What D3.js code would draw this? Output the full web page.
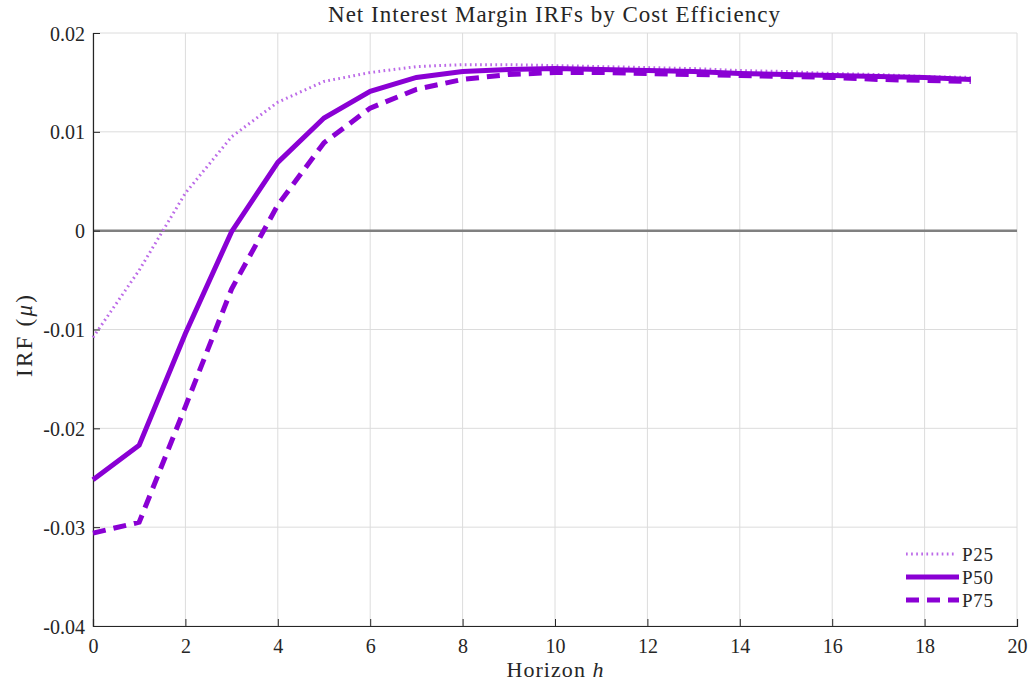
<!DOCTYPE html>
<html>
<head>
<meta charset="utf-8">
<script src="https://cdn.jsdelivr.net/npm/d3@7"></script>
<style>
  body { margin: 0; background: #fff; }
  svg text { font-family: "Liberation Serif", "Times New Roman", serif; }
</style>
</head>
<body>
<svg id="chart" width="1030" height="686"></svg>
<script>
const horizon = d3.range(0, 20);
const p25 = [-0.0108, -0.0040, 0.0038, 0.0095, 0.0130, 0.0151, 0.0160, 0.0166, 0.0168, 0.0168,
             0.0167, 0.0166, 0.0165, 0.0164, 0.0162, 0.0161, 0.0159, 0.0158, 0.0156, 0.0155];
const p50 = [-0.0252, -0.0217, -0.0104, -0.0001, 0.0069, 0.0114, 0.0141, 0.0155, 0.0161, 0.0163,
             0.0164, 0.0163, 0.0162, 0.0161, 0.0159, 0.0158, 0.0157, 0.0156, 0.0155, 0.0153];
const p75 = [-0.0306, -0.0295, -0.0178, -0.0059, 0.0026, 0.0089, 0.0124, 0.0143, 0.0153, 0.0158,
             0.0160, 0.0160, 0.0159, 0.0158, 0.0157, 0.0156, 0.0155, 0.0153, 0.0152, 0.0151];
const xTicks = [0, 2, 4, 6, 8, 10, 12, 14, 16, 18, 20];
const yTicks = [-0.04, -0.03, -0.02, -0.01, 0, 0.01, 0.02];
const yTickLabels = ["-0.04", "-0.03", "-0.02", "-0.01", "0", "0.01", "0.02"];

const series = [
  {name: "P25", values: p25, color: "#bc6ae8", width: 3, dash: "1.7,3.4"},
  {name: "P50", values: p50, color: "#8a00d4", width: 5, dash: null},
  {name: "P75", values: p75, color: "#8a00d4", width: 5, dash: "13,8"}
];

const svg = d3.select("#chart");
const margin = {left: 93, right: 13, top: 33, bottom: 60};
const W = 1030, H = 686;

const x = d3.scaleLinear().domain([0, 20]).range([margin.left, W - margin.right]);
const y = d3.scaleLinear().domain([-0.04, 0.02]).range([H - margin.bottom, margin.top]);

// grid
const grid = svg.append("g");
grid.selectAll("line.gx").data(xTicks).enter().append("line")
  .attr("x1", d => x(d)).attr("x2", d => x(d))
  .attr("y1", y(-0.04)).attr("y2", y(0.02))
  .attr("stroke", "#dcdcdc").attr("stroke-width", 1);
grid.selectAll("line.gy").data(yTicks).enter().append("line")
  .attr("x1", x(0)).attr("x2", x(20))
  .attr("y1", d => y(d)).attr("y2", d => y(d))
  .attr("stroke", "#dcdcdc").attr("stroke-width", 1);

// zero line
svg.append("line")
  .attr("x1", x(0)).attr("x2", x(20))
  .attr("y1", y(0)).attr("y2", y(0))
  .attr("stroke", "#808080").attr("stroke-width", 2.5);

// axes, ticks point inward
const xAxis = svg.append("g")
  .attr("transform", `translate(0,${y(-0.04)})`)
  .call(d3.axisBottom(x).tickValues(xTicks).tickSize(-7).tickPadding(13).tickFormat(d3.format("d")));
const yAxis = svg.append("g")
  .attr("transform", `translate(${x(0)},0)`)
  .call(d3.axisLeft(y).tickValues(yTicks).tickSize(-7).tickPadding(8)
    .tickFormat((d, i) => yTickLabels[i]));
[xAxis, yAxis].forEach(a => {
  a.attr("font-family", null);
  a.select(".domain").attr("stroke", "#262626").attr("stroke-width", 1.2);
  a.selectAll(".tick line").attr("stroke", "#262626");
  a.selectAll("text").attr("font-size", 20).attr("fill", "#262626");
});
yAxis.selectAll("text").attr("dy", "0.35em");

// lines
const line = d3.line().x((d, i) => x(horizon[i])).y(d => y(d));
series.forEach(s => {
  svg.append("path")
    .datum(s.values)
    .attr("fill", "none")
    .attr("stroke", s.color)
    .attr("stroke-width", s.width)
    .attr("stroke-dasharray", s.dash)
    .attr("d", line);
});

// title and labels
svg.append("text").attr("x", 554).attr("y", 22)
  .attr("text-anchor", "middle").attr("font-size", 23).attr("fill", "#262626")
  .attr("textLength", 452).attr("lengthAdjust", "spacing")
  .text("Net Interest Margin IRFs by Cost Efficiency");

const xl = svg.append("text").attr("x", 555).attr("y", 677)
  .attr("text-anchor", "middle").attr("font-size", 22).attr("fill", "#262626")
  .attr("textLength", 97).attr("lengthAdjust", "spacing");
xl.append("tspan").text("Horizon ");
xl.append("tspan").attr("font-style", "italic").text("h");

const yl = svg.append("text")
  .attr("transform", "translate(32,336) rotate(-90)")
  .attr("text-anchor", "middle").attr("font-size", 23).attr("fill", "#262626")
  .attr("textLength", 82).attr("lengthAdjust", "spacing");
yl.append("tspan").text("IRF (");
yl.append("tspan").attr("font-style", "italic").text("μ");
yl.append("tspan").text(")");

// legend
const legend = svg.append("g").attr("transform", "translate(906,554)");
series.forEach((s, i) => {
  const g = legend.append("g").attr("transform", `translate(0,${i * 23})`);
  g.append("line").attr("x1", 0).attr("x2", i === 0 ? 50 : 53).attr("y1", 0).attr("y2", 0)
    .attr("stroke", s.color).attr("stroke-width", s.width)
    .attr("stroke-dasharray", s.dash);
  g.append("text").attr("x", 56).attr("y", 0).attr("dy", "0.35em")
    .attr("font-size", 19).attr("fill", "#262626")
    .attr("textLength", 31).attr("lengthAdjust", "spacing").text(s.name);
});
</script>
</body>
</html>
